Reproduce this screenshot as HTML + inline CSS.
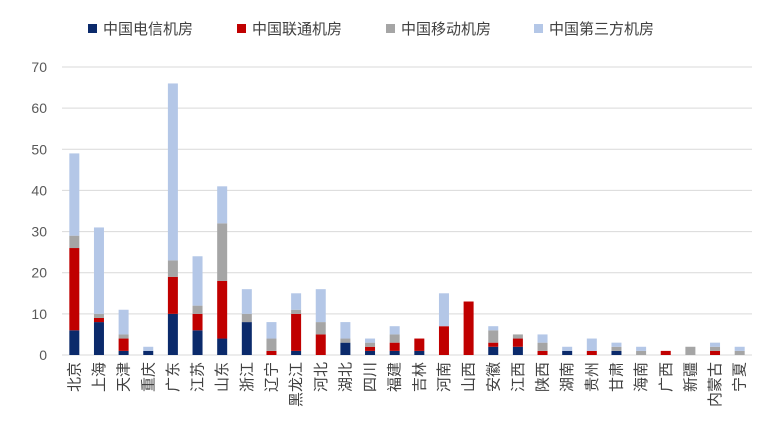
<!DOCTYPE html>
<html><head><meta charset="utf-8"><style>
body{margin:0;background:#fff;}
svg{display:block;font-family:"Liberation Sans","Noto Sans CJK SC",sans-serif;}
</style></head><body>
<svg id="chart" width="762" height="429"></svg>
<script>
const categories=["北京","上海","天津","重庆","广东","江苏","山东","浙江","辽宁","黑龙江","河北","湖北","四川","福建","吉林","河南","山西","安徽","江西","陕西","湖南","贵州","甘肃","海南","广西","新疆","内蒙古","宁夏"];
const telecom=[6,8,1,1,10,6,4,8,0,1,0,3,1,1,1,0,0,2,2,0,1,0,1,0,0,0,0,0];
const unicom=[20,1,3,0,9,4,14,0,1,9,5,0,1,2,3,7,13,1,2,1,0,1,0,0,1,0,1,0];
const mobile=[3,1,1,0,4,2,14,2,3,1,3,1,1,2,0,0,0,3,1,2,0,0,1,1,0,2,1,1];
const third=[20,21,6,1,43,12,9,6,4,4,8,4,1,2,0,8,0,1,0,2,1,3,1,1,0,0,1,1];
const yTicks=[0,10,20,30,40,50,60,70];
const seriesNames=["中国电信机房","中国联通机房","中国移动机房","中国第三方机房"];
const colors=["#0b2a6b","#c00000","#a5a5a5","#b4c7e7"];
const svg=document.getElementById('chart');
const NS='http://www.w3.org/2000/svg';
const x0=62,x1=752,y0=355,yTop=67,yMax=70;
const band=(x1-x0)/categories.length;
function yS(v){return y0-(v/yMax)*(y0-yTop);}
function xC(i){return x0+band*(i+0.5);}
function mk(t,a){const e=document.createElementNS(NS,t);for(const k in a)e.setAttribute(k,a[k]);svg.appendChild(e);return e;}
yTicks.forEach(t=>{
  const l=mk('line',{x1:x0,x2:x1,y1:yS(t),y2:yS(t),stroke:'#d9d9d9','stroke-width':1});
  
  
  const tx=mk('text',{x:47,y:yS(t)+5,'text-anchor':'end','font-size':14,fill:'#595959'});
  tx.textContent=t;
  
  
});
const series=[telecom,unicom,mobile,third];
categories.forEach((c,i)=>{
  let acc=0;
  series.forEach((s,k)=>{
    const v=s[i];
    if(v>0){
      const r=mk('rect',{x:xC(i)-5,width:10,y:yS(acc+v),height:yS(acc)-yS(acc+v),fill:colors[k]});
      
      
    }
    acc+=v;
  });
  const tx=mk('text',{x:0,y:0,'text-anchor':'end','font-size':15,fill:'#404040',transform:`translate(${xC(i)+5},362) rotate(-90)`});
  tx.textContent=c;
  
  
});
const lx=[88,237,386,534];
seriesNames.forEach((n,k)=>{
  const r=mk('rect',{x:lx[k],y:24,width:9,height:9,fill:colors[k]});
  
  
  const t=mk('text',{x:lx[k]+15,y:34,'font-size':15,fill:'#404040'});
  t.textContent=n;
  
  
});
</script>
</body></html>
